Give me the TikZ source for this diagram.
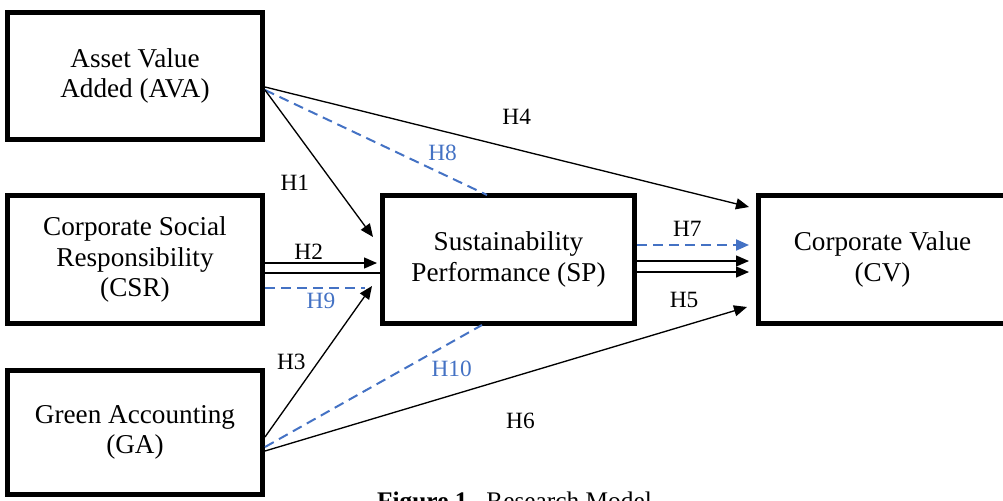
\documentclass[tikz,border=0pt]{standalone}
\usepackage{fontspec}
\setmainfont{Liberation Serif}
\definecolor{medblue}{RGB}{68,114,196}
\usetikzlibrary{calc}
\usetikzlibrary{positioning}
\usetikzlibrary{arrows.meta}
\tikzset{every node/.style={align=center},
  construct/.style={ % Boxes for the variables
    draw, line width=3.75pt,
    minimum width=191.25pt, minimum height=96pt,
    font=\fontsize{20.4}{23}\selectfont},
  hyp/.style={ % Direct effects
    line width=1pt, -{Triangle[length=9.75pt,width=8.25pt]}},
  med/.style={ % Mediated effects
    medblue, line width=1.5pt, dash pattern=on 7.5pt off 4.5pt},
  hlabel/.style={font=\fontsize{17.5}{20}\selectfont, inner sep=0pt},
  blabel/.style={hlabel, text=medblue}}

\begin{document}
\begin{tikzpicture}[x=0.75pt, y=-0.75pt]
  \useasboundingbox (0,0) rectangle (1003,500);

  \node [construct] (csr) at (135,259.5) {Corporate Social\\ Responsibility\\ (CSR)};
  \node [construct, minimum height=95.25pt, above=38.25pt of csr] (ava) {Asset Value\\ Added (AVA)};
  \node [construct, minimum height=93pt, below=31.5pt of csr] (ga) {Green Accounting\\ (GA)};
  \node [construct, minimum width=189pt, right=86.25pt of csr] (sp) {Sustainability\\ Performance (SP)};
  \node [construct, minimum width=186pt, right=89.25pt of sp] (cv) {Corporate Value\\ (CV)};

  % AVA
  \draw [hyp] ($(ava.east)+(0,11)$) -- node [hlabel, pos=.52, yshift=24.4pt] {H4} ($(cv.north west)+(-7,14)$);
  \draw [med] ($(ava.east)+(0,14)$) -- node [blabel, pos=.8, yshift=15.5pt] {H8} ($(sp.north)+(-21.5,2)$);
  \draw [hyp] ($(ava.east)+(0,14)$) -- node [hlabel, pos=.63, xshift=-28.7pt] {H1} ($(sp.north west)+(-7,44)$);

  % CSR
  \draw [hyp] ($(csr.east)+(0,3.5)$) -- node [hlabel, pos=.39, yshift=8.3pt] {H2} ($(sp.west)+(-3,3.5)$);
  \draw [line width=1pt] ($(csr.east)+(0,13.5)$) -- ($(sp.west)+(0,13.5)$);
  \draw [med] ($(csr.east)+(0,28.5)$) -- node [blabel, pos=.56, yshift=-9.75pt] {H9} ($(sp.west)+(-15,28.5)$);

  % GA
  \draw [hyp] ($(ga.east)+(0,4.5)$) -- node [hlabel, pos=.5, xshift=-20.4pt] {H3} ($(sp.west)+(-8,26.5)$);
  \draw [med] ($(ga.east)+(0,14.5)$) -- node [blabel, pos=.86, yshift=-19.8pt] {H10} ($(sp.south)+(-26.5,-1)$);
  \draw [hyp] ($(ga.east)+(0,18.5)$) -- node [hlabel, pos=.53, yshift=-35pt] {H6} ($(cv.south west)+(-9,-19)$);

  % SP
  \draw [med, -{Triangle[length=9.75pt,width=8.25pt]}] ($(sp.east)+(0,-14.5)$) -- node [hlabel, text=black, pos=.45, yshift=12pt] {H7} ($(cv.west)+(-7,-14.5)$);
  \draw [hyp] ($(sp.east)+(0,1.5)$) -- ($(cv.west)+(-7,1.5)$);
  \draw [hyp] ($(sp.east)+(0,12.5)$) -- node [hlabel, pos=.42, yshift=-21pt] {H5} ($(cv.west)+(-7,12.5)$);

  \node [anchor=base, font=\fontsize{19}{22}\selectfont] (caption) at (514.5,509) {\textbf{Figure 1.}\ \ Research Model};
\end{tikzpicture}
\end{document}
